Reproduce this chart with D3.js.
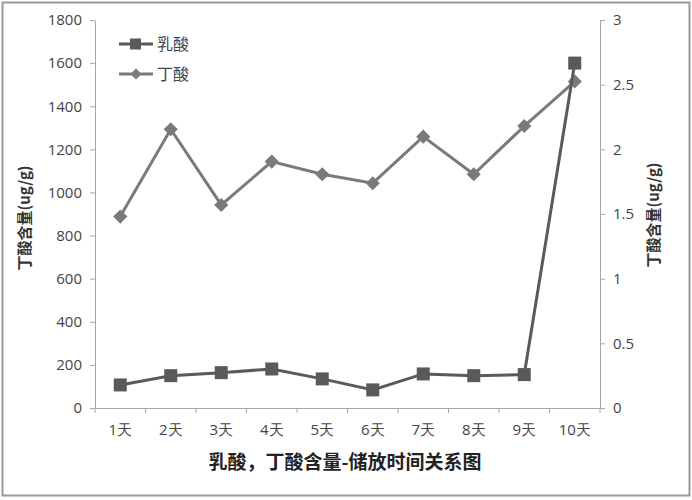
<!DOCTYPE html>
<html><head><meta charset="utf-8">
<script src="https://cdn.jsdelivr.net/npm/d3@7"></script>
<style>
body{margin:0;background:#fff;}
svg{display:block;}
</style></head>
<body>
<svg id="c" width="692" height="500"></svg>
<script>
const categories = ["1天","2天","3天","4天","5天","6天","7天","8天","9天","10天"];
const lacticAcid = [107,150,164,181,135,84,158,150,155,1600];
const butyricAcid = [1.48,2.155,1.57,1.905,1.807,1.738,2.098,1.807,2.18,2.525];
const leftTicks = [0,200,400,600,800,1000,1200,1400,1600,1800];
const rightTicks = [0,0.5,1,1.5,2,2.5,3];
const seriesNames = ["乳酸","丁酸"];
const titleText = "乳酸，丁酸含量-储放时间关系图";
const axisTitle = "丁酸含量(ug/g)";

const svg = d3.select("#c");
const L = 95, R = 600, T = 20, B = 408;
const tickFont = "'Open Sans', 'Noto Sans', sans-serif";
const cjkFont = "'Noto Sans CJK SC', sans-serif";

svg.append("rect").attr("x",2.5).attr("y",2.5).attr("width",687).attr("height",493)
  .attr("fill","#fff").attr("stroke","#999").attr("stroke-width",2);

const x = d3.scaleBand().domain(categories).range([L,R]);
const yL = d3.scaleLinear().domain([0,1800]).range([B,T]);
const yR = d3.scaleLinear().domain([0,3]).range([B,T]);

function styleAxis(g){
  g.selectAll("path,line").attr("stroke","#a6a6a6");
  g.selectAll("text").attr("fill","#444").attr("font-family",tickFont).attr("font-size",15);
}
const gl = svg.append("g").attr("transform",`translate(${L},0)`)
  .call(d3.axisLeft(yL).tickValues(leftTicks).tickFormat(d3.format("d")).tickSize(5).tickSizeOuter(0).tickPadding(8));
styleAxis(gl);
const gr = svg.append("g").attr("transform",`translate(${R},0)`)
  .call(d3.axisRight(yR).tickValues(rightTicks).tickFormat(d3.format("")).tickSize(5).tickSizeOuter(0).tickPadding(8));
styleAxis(gr);
const gb = svg.append("g").attr("transform",`translate(0,${B})`)
  .call(d3.axisBottom(x).tickSize(0).tickPadding(16));
styleAxis(gb);
const bounds = categories.map(c=>x(c)).concat([R]);
gb.selectAll("line.b").data(bounds).enter().append("line").attr("class","b")
  .attr("x1",d=>d).attr("x2",d=>d).attr("y1",0).attr("y2",5).attr("stroke","#a6a6a6");

const cx = d => x(d) + x.bandwidth()/2;

const col2 = "#7a7a7a", col1 = "#5a5a5a";
svg.append("path").datum(butyricAcid)
  .attr("d", d3.line().x((d,i)=>cx(categories[i])).y(d=>yR(d)))
  .attr("fill","none").attr("stroke",col2).attr("stroke-width",3);
svg.selectAll("path.dia").data(butyricAcid).enter().append("path").attr("class","dia")
  .attr("d", d3.symbol().type(d3.symbolSquare).size(100))
  .attr("transform",(d,i)=>`translate(${cx(categories[i])},${yR(d)}) rotate(45)`)
  .attr("fill",col2);

svg.append("path").datum(lacticAcid)
  .attr("d", d3.line().x((d,i)=>cx(categories[i])).y(d=>yL(d)))
  .attr("fill","none").attr("stroke",col1).attr("stroke-width",3);
svg.selectAll("rect.sq").data(lacticAcid).enter().append("rect").attr("class","sq")
  .attr("x",(d,i)=>cx(categories[i])-6.5).attr("y",d=>yL(d)-6.5)
  .attr("width",13).attr("height",13).attr("fill",col1);

const lg = svg.append("g");
[0,1].forEach(i=>{
  const yy = 44 + i*30;
  const c = i===0?col1:col2;
  lg.append("line").attr("x1",119).attr("x2",153).attr("y1",yy).attr("y2",yy).attr("stroke",c).attr("stroke-width",3);
  if(i===0) lg.append("rect").attr("x",130).attr("y",yy-5.5).attr("width",11).attr("height",11).attr("fill",c);
  else lg.append("path").attr("d",d3.symbol().type(d3.symbolSquare).size(60)).attr("transform",`translate(136,${yy}) rotate(45)`).attr("fill",c);
  lg.append("text").attr("x",157).attr("y",yy+6).text(seriesNames[i])
    .attr("font-family",cjkFont).attr("font-size",16).attr("fill","#444");
});

svg.append("text").attr("transform","translate(30,218) rotate(-90)").attr("text-anchor","middle")
  .attr("font-family",cjkFont).attr("font-size",15).attr("font-weight","bold").attr("fill","#333").text(axisTitle);
svg.append("text").attr("transform","translate(659,215) rotate(-90)").attr("text-anchor","middle")
  .attr("font-family",cjkFont).attr("font-size",15).attr("font-weight","bold").attr("fill","#333").text(axisTitle);

svg.append("text").attr("x",345).attr("y",469).attr("text-anchor","middle")
  .attr("font-family",cjkFont).attr("font-size",19).attr("font-weight","bold").attr("fill","#222").text(titleText);
</script>
</body></html>
